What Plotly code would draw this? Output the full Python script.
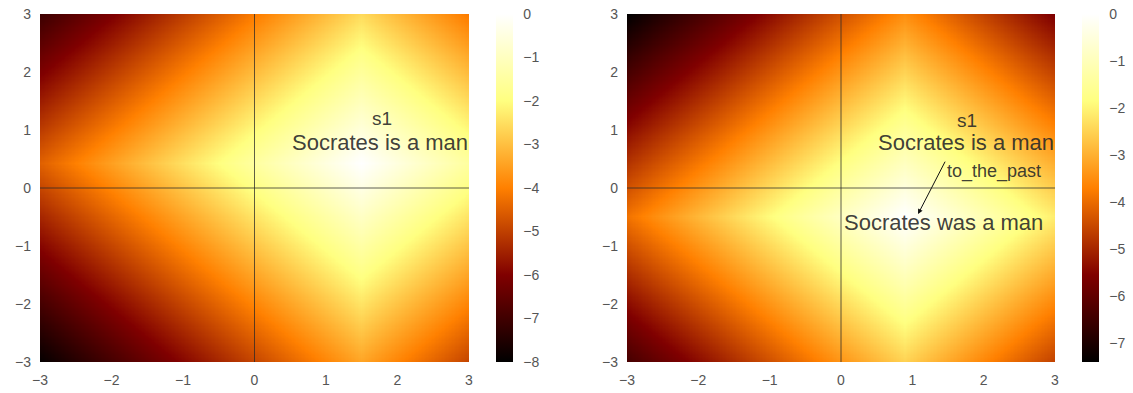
import numpy as np
import plotly.graph_objects as go

# 各パネルの中心点（L1距離の基準）
s1_center = [1.5, 0.42]
past_center = [0.9, -0.5]

axis_ticks = [-3, -2, -1, 0, 1, 2, 3]
cb_ticks_left = [0, -1, -2, -3, -4, -5, -6, -7, -8]
cb_ticks_right = [0, -1, -2, -3, -4, -5, -6, -7]

# テキストラベル
left_labels = {"s1": (1.79, 1.2), "Socrates is a man": (1.75, 0.79)}
right_labels = {"s1": (1.76, 1.16), "Socrates is a man": (1.75, 0.79),
                "to_the_past": (2.14, 0.28), "Socrates was a man": (1.43, -0.59)}
arrow_start = [1.47, 0.48]
arrow_end = [1.08, -0.45]

grid = np.linspace(-3, 3, 301)
X, Y = np.meshgrid(grid, grid)
z_left = -(np.abs(X - s1_center[0]) + np.abs(Y - s1_center[1]))
z_right = -(np.abs(X - past_center[0]) + np.abs(Y - past_center[1]))

afmhot = [[0, "#000000"], [0.25, "#800000"], [0.5, "#ff8000"],
          [0.75, "#ffff80"], [1, "#ffffff"]]

W, H = 1133, 393
y0, y1 = 1 - 362 / H, 1 - 14 / H
tickfont = dict(family="Liberation Sans, Arial", size=14, color="#555555")


def px(x):
    return x / W


def cbar(x_px, ticks):
    return dict(x=px(x_px), xanchor="left", xpad=0, ypad=0, y=y0, yanchor="bottom",
                len=y1 - y0, lenmode="fraction", thickness=17, outlinewidth=0,
                tickvals=ticks, ticktext=[str(t).replace("-", "\u2212") for t in ticks],
                tickfont=tickfont, ticks="outside", ticklen=8, tickcolor="rgba(0,0,0,0)",
                ticklabeloverflow="allow")


fig = go.Figure()
fig.add_trace(go.Heatmap(x=grid, y=grid, z=z_left, colorscale=afmhot, zmin=-8, zmax=0,
                         colorbar=cbar(496, cb_ticks_left), xaxis="x", yaxis="y"))
fig.add_trace(go.Heatmap(x=grid, y=grid, z=z_right, colorscale=afmhot,
                         colorbar=cbar(1082, cb_ticks_right), xaxis="x2", yaxis="y2"))

ticktext = [str(t).replace("-", "\u2212") for t in axis_ticks]
ax = dict(range=[-3, 3], tickvals=axis_ticks, ticktext=ticktext, tickfont=tickfont,
          showgrid=False, zeroline=False, showline=False, ticks="",
          ticklabelstandoff=8, automargin=False, ticklabeloverflow="allow")

fig.update_layout(
    width=W, height=H, margin=dict(l=0, r=0, t=0, b=0, autoexpand=False),
    paper_bgcolor="white", plot_bgcolor="white",
    xaxis=dict(ax, domain=[px(40), px(469)], anchor="y"),
    yaxis=dict(ax, domain=[y0, y1], anchor="x"),
    xaxis2=dict(ax, domain=[px(627), px(1055)], anchor="y2"),
    yaxis2=dict(ax, domain=[y0, y1], anchor="x2"),
    font=dict(family="Liberation Sans, Arial"),
)

# 原点を通る軸線
for xr, yr in [("x", "y"), ("x2", "y2")]:
    line = dict(color="rgba(40,40,40,0.75)", width=1)
    fig.add_shape(type="line", xref=xr, yref=yr, x0=0, x1=0, y0=-3, y1=3, line=line)
    fig.add_shape(type="line", xref=xr, yref=yr, x0=-3, x1=3, y0=0, y1=0, line=line)

txt = "rgba(40,40,40,0.9)"
for xr, yr, labels in [("x", "y", left_labels), ("x2", "y2", right_labels)]:
    for label, (lx, ly) in labels.items():
        size = 19 if label == "s1" else (18 if label == "to_the_past" else 22)
        fig.add_annotation(x=lx, y=ly, xref=xr, yref=yr, text=label, showarrow=False,
                           font=dict(size=size, color=txt))

fig.add_annotation(x=arrow_end[0], y=arrow_end[1], ax=arrow_start[0], ay=arrow_start[1],
                   xref="x2", yref="y2", axref="x2", ayref="y2", text="",
                   showarrow=True, arrowhead=2, arrowsize=1, arrowwidth=1,
                   arrowcolor="#111111")

# ページ本体の余白をなくし、モードバーを隠す
fig.write_html("out.html", config={"displayModeBar": False},
               post_script="document.body.style.margin='0';")
